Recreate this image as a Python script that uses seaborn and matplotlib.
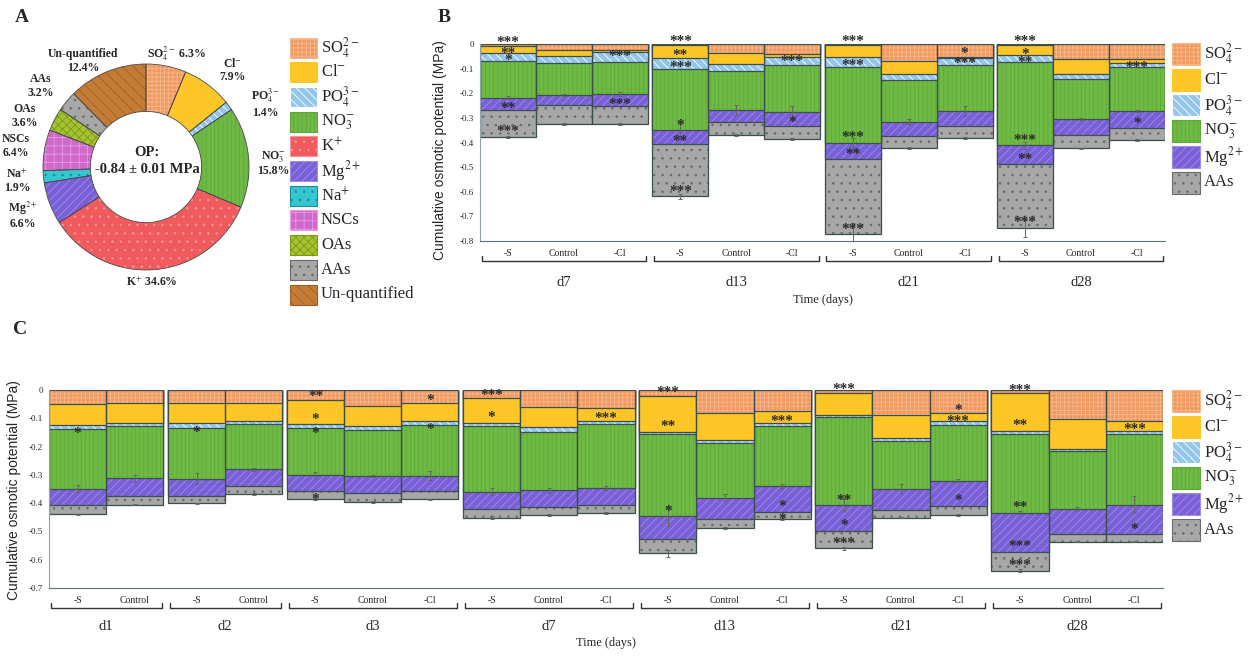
import numpy as np
import matplotlib.pyplot as plt
from matplotlib.patches import Rectangle
from matplotlib.ticker import FuncFormatter, MultipleLocator
import seaborn as sns

# =============================================
# 1. Data
# =============================================
# A: share of leaf osmotic potential (%), clockwise from 12 o'clock
pie_keys = ["SO4", "Cl", "PO4", "NO3", "K", "Mg", "Na", "NSCs", "OAs", "AAs", "Unq"]
pie_share = [6.3, 7.9, 1.4, 15.8, 34.6, 6.6, 1.9, 6.4, 3.6, 3.2, 12.4]
pie_total = "OP:\n-0.84 ± 0.01 MPa"

# B / C: solute contributions (MPa, magnitude), stacked from 0 downwards
seg_keys = ["SO4", "Cl", "PO4", "NO3", "Mg", "AAs"]

days_b = ["d7", "d13", "d21", "d28"]
treat_b = [["-S", "Control", "-Cl"]] * 4
so4_b = [.007, .024, .024, .004, .038, .042, .004, .068, .052, .004, .062, .062]
cl_b = [.028, .025, .007, .052, .043, .010, .048, .054, .006, .041, .060, .014]
po4_b = [.034, .029, .041, .046, .029, .033, .040, .024, .027, .029, .020, .019]
no3_b = [.149, .129, .131, .248, .158, .190, .308, .170, .187, .337, .163, .177]
mg_b = [.052, .041, .049, .058, .048, .057, .069, .058, .060, .078, .065, .071]
aas_b = [.107, .077, .073, .210, .054, .055, .303, .050, .049, .258, .054, .047]
err_no3_b = [.005, .004, .008, .025, .020, .022, .020, .010, .020, .015, .005, .005]
err_tot_b = [.004, .003, .003, .010, .004, .004, .045, .004, .003, .035, .003, .003]
sig_b = [
    ["***", "**", "*", "", "**", "***"], ["", "", "", "", "", ""], ["", "***", "", "", "***", ""],
    ["***", "**", "***", "*", "**", "***"], ["", "", "", "", "", ""], ["", "***", "", "", "*", ""],
    ["***", "", "***", "***", "**", "***"], ["", "", "", "", "", ""], ["*", "***", "", "", "", ""],
    ["***", "*", "**", "***", "**", "***"], ["", "", "", "", "", ""], ["", "***", "", "", "*", ""],
]

days_c = ["d1", "d2", "d3", "d7", "d13", "d21", "d28"]
treat_c = [["-S", "Control"], ["-S", "Control"]] + [["-S", "Control", "-Cl"]] * 5
so4_c = [.049, .047, .045, .045, .035, .056, .047, .029, .059, .062,
         .021, .082, .076, .009, .090, .082, .012, .103, .108]
cl_c = [.074, .068, .070, .064, .086, .073, .062, .086, .072, .046,
        .126, .096, .039, .079, .080, .029, .132, .106, .036]
po4_c = [.014, .011, .018, .012, .014, .014, .014, .014, .016, .013,
         .009, .010, .012, .006, .009, .012, .011, .008, .011]
no3_c = [.212, .186, .181, .160, .166, .162, .180, .231, .208, .225,
         .290, .193, .213, .313, .170, .197, .279, .203, .250]
mg_c = [.059, .061, .059, .057, .057, .058, .055, .062, .058, .061,
        .082, .076, .090, .091, .077, .090, .137, .090, .105]
aas_c = [.032, .032, .028, .029, .027, .032, .029, .029, .029, .027,
         .049, .032, .025, .062, .025, .032, .068, .026, .026]
err_no3_c = [.012, .012, .020, .004, .010, .004, .015, .012, .010, .008,
             .035, .012, .008, .020, .015, .006, .006, .008, .030]
err_tot_c = [.003, .003, .003, .003, .003, .004, .003, .004, .003, .003,
             .012, .003, .003, .005, .003, .003, .005, .003, .003]
sig_c = [
    ["", "", "*", "", "", ""], ["", "", "", "", "", ""],
    ["", "", "*", "", "", ""], ["", "", "", "", "", ""],
    ["**", "*", "*", "", "", "*"], ["", "", "", "", "", ""], ["*", "", "*", "", "", ""],
    ["***", "*", "", "", "", ""], ["", "", "", "", "", ""], ["", "***", "", "", "", ""],
    ["***", "**", "", "*", "", ""], ["", "", "", "", "", ""], ["", "***", "", "", "*", "*"],
    ["***", "", "", "**", "*", "***"], ["", "", "", "", "", ""], ["*", "***", "", "", "*", ""],
    ["***", "**", "", "**", "***", "***"], ["", "", "", "", "", ""], ["", "***", "", "", "*", ""],
]

# =============================================
# 2. Styles
# =============================================
names = {"SO4": "SO$_4^{2-}$", "Cl": "Cl$^{-}$", "PO4": "PO$_4^{3-}$", "NO3": "NO$_3^{-}$",
         "K": "K$^{+}$", "Mg": "Mg$^{2+}$", "Na": "Na$^{+}$", "NSCs": "NSCs", "OAs": "OAs",
         "AAs": "AAs", "Unq": "Un-quantified"}
# face colour, hatch, hatch colour
style = {
    "SO4": ("#F2995F", "++++", "#F7B88C"),
    "Cl": ("#FFC627", "", "#FFC627"),
    "PO4": ("#93C6EC", "\\\\\\\\", "#FFFFFF"),
    "NO3": ("#6FBA45", "||||", "#5FA838"),
    "K": ("#F15B5E", "..", "#F89598"),
    "Mg": ("#7A60D6", "////", "#9F8BEC"),
    "Na": ("#35C6CF", "..", "#1B8F98"),
    "NSCs": ("#D068CB", "++", "#E79BE3"),
    "OAs": ("#A5C232", "xxxx", "#7E9A14"),
    "AAs": ("#A7A7A7", "..", "#6A6A6A"),
    "Unq": ("#C47B36", "\\\\\\", "#A15F22"),
}
EDGE = "#3d4f4c"
GAP = 0.08
W, H = 1249, 657

sns.set_style("white")
plt.rcParams["font.family"] = ["Liberation Serif", "DejaVu Serif"]
plt.rcParams["mathtext.fontset"] = "stix"
plt.rcParams["axes.unicode_minus"] = False
plt.rcParams["hatch.linewidth"] = 0.6

fig = plt.figure(figsize=(W / 100, H / 100), dpi=100)


def stacked(ax, days, treats, parts, sig, e_no3, e_tot, ylo, lab_y, day_y, ylab_x, ylab_y):
    pos, labs, spans = [], [], []
    n = 0
    for g, (day, tr) in enumerate(zip(days, treats)):
        first = n + g * GAP
        for t in tr:
            pos.append(n + g * GAP)
            labs.append(t)
            n += 1
        spans.append((first - 0.5, pos[-1] + 0.5, day))
    pos = np.array(pos)
    parts = np.array(parts)
    cum = -np.cumsum(parts, axis=0)

    # deepest cumulative bar first, shallower ones drawn over it
    for k in range(len(seg_keys) - 1, -1, -1):
        fc, hatch, hc = style[seg_keys[k]]
        sns.barplot(x=pos, y=cum[k], orient="x", native_scale=True, width=1, errorbar=None,
                    color=fc, saturation=1, hatch=hatch, edgecolor=hc, linewidth=0, ax=ax)
        sns.barplot(x=pos, y=cum[k], orient="x", native_scale=True, width=1, errorbar=None,
                    fill=False, color=EDGE, edgecolor=EDGE, linewidth=0.9, ax=ax)

    ax.errorbar(pos, cum[3], yerr=e_no3, fmt="none", ecolor="#666666", elinewidth=0.7,
                capsize=1.5, capthick=0.7, zorder=4)
    ax.errorbar(pos, cum[-1], yerr=e_tot, fmt="none", ecolor="#666666", elinewidth=0.7,
                capsize=1.5, capthick=0.7, zorder=4)

    # significance marks: just above the lower boundary of their segment
    px_per_unit = ax.get_position().height * H / (0 - ylo)
    for i, marks in enumerate(sig):
        for k, s in enumerate(marks):
            if not s:
                continue
            seg_px = parts[k, i] * px_per_unit
            if k == 0:
                lift = 7
            elif seg_px < 6:
                lift = -1
            else:
                lift = min(9, seg_px / 2)
            ax.annotate(s, (pos[i], cum[k, i]), xytext=(0, (lift - 4) * 0.72),
                        textcoords="offset points", ha="center", va="center", fontsize=11,
                        fontweight="bold", color="#2b2b2b", annotation_clip=False, zorder=5)

    ax.set_xlim(pos[0] - 0.5, pos[-1] + 0.5)
    ax.set_ylim(ylo, 0)
    ax.set_xticks(pos)
    ax.set_xticklabels(labs, fontsize=7)
    ax.yaxis.set_major_locator(MultipleLocator(0.1))
    ax.yaxis.set_major_formatter(FuncFormatter(lambda v, p: "0" if abs(v) < 1e-9 else f"{v:.1f}"))
    ax.tick_params(axis="y", labelsize=6.5, length=2.5, width=0.7, color="#8a9aa3", pad=2)
    ax.tick_params(axis="x", length=3, width=0.7, color="#5f6f78", pad=3)
    for side in ["top", "right"]:
        ax.spines[side].set_visible(False)
    ax.spines["left"].set_color("#8fa3ad")
    ax.spines["bottom"].set_color("#5f6f78")
    ax.set_xlabel("")
    ax.set_ylabel("Cumulative osmotic potential (MPa)", fontsize=10,
                  family=["Liberation Sans", "DejaVu Sans"])
    ax.yaxis.set_label_coords(ylab_x, ylab_y)

    trans = ax.get_xaxis_transform()
    for a, b, day in spans:
        ax.plot([a + 0.03, a + 0.03, b - 0.03, b - 0.03], [lab_y + 0.025, lab_y, lab_y, lab_y + 0.025],
                transform=trans, clip_on=False, color="#333333", lw=1)
        ax.text((a + b) / 2, day_y, day, transform=trans, ha="center", va="center", fontsize=10.5)
    ax.text(0.5, day_y - 0.085, "Time (days)", transform=ax.transAxes, ha="center", va="center",
            fontsize=9)


# =============================================
# 3. Panel A: donut
# =============================================
cx, cy, r = 146, 167, 103
ax_a = fig.add_axes([(cx - r) / W, 1 - (cy + r) / H, 2 * r / W, 2 * r / H])
fills = ax_a.pie(pie_share, colors=[style[k][0] for k in pie_keys], startangle=90,
                 counterclock=False, radius=1, wedgeprops=dict(width=0.46, linewidth=0))[0]
for w, k in zip(fills, pie_keys):
    w.set_hatch(style[k][1])
    w.set_edgecolor(style[k][2])
    w.set_linewidth(0)
ax_a.pie(pie_share, colors=["none"] * len(pie_keys), startangle=90, counterclock=False, radius=1,
         wedgeprops=dict(width=0.46, linewidth=0.6, edgecolor="#4a4a4a"))
ax_a.set_xlim(-1, 1)
ax_a.set_ylim(-1, 1)
ax_a.axis("off")

# =============================================
# 4. Panels B and C: stacked bars
# =============================================
ax_b = fig.add_axes([480 / W, 1 - 241 / H, 685 / W, 197 / H])
stacked(ax_b, days_b, treat_b, [so4_b, cl_b, po4_b, no3_b, mg_b, aas_b], sig_b,
        err_no3_b, err_tot_b, -0.8, -0.10, -0.213, -0.048, 0.46)

ax_c = fig.add_axes([49 / W, 1 - 588 / H, 1114 / W, 198 / H])
stacked(ax_c, days_c, treat_c, [so4_c, cl_c, po4_c, no3_c, mg_c, aas_c], sig_c,
        err_no3_c, err_tot_c, -0.7, -0.10, -0.195, -0.025, 0.495)

# =============================================
# 5. Overlay in pixel units: letters, donut labels, legends
# =============================================
ov = fig.add_axes([0, 0, 1, 1])
ov.set_xlim(0, W)
ov.set_ylim(H, 0)
ov.axis("off")

for letter, (x, y) in zip("ABC", [(22, 18), (444, 17), (20, 330)]):
    ov.text(x, y, letter, fontsize=14, fontweight="bold", ha="center", va="center")

ov.text(147, 161, pie_total, fontsize=10.5, fontweight="bold", ha="center", va="center",
        linespacing=1.35)

pie_lab_xy = {"Unq": (83, 61), "SO4": (176, 54), "Cl": (233, 70), "PO4": (265, 103),
              "NO3": (273, 163), "K": (152, 282), "Mg": (23, 215), "Na": (17, 181),
              "NSCs": (16, 146), "OAs": (25, 116), "AAs": (41, 86)}
for k, v in zip(pie_keys, pie_share):
    sep = " " if k in ("SO4", "K") else "\n"
    x, y = pie_lab_xy[k]
    ov.text(x, y, f"{names[k]}{sep}{v:.1f}%", fontsize=8.5, fontweight="bold", ha="center",
            va="center", multialignment="center", linespacing=1.15)


def legend_box(keys, x0, y0, step, w, h):
    for i, k in enumerate(keys):
        fc, hatch, hc = style[k]
        yc = y0 + i * step
        ov.add_patch(Rectangle((x0, yc - h / 2), w, h, facecolor=fc, hatch=hatch, edgecolor=hc, lw=0.8))
        ov.text(x0 + w + 4, yc, names[k], fontsize=12, ha="left", va="center")


legend_box(pie_keys, 290, 47.5, 24.7, 27, 20)
legend_box(seg_keys, 1172, 54, 25.7, 28, 22)
legend_box(seg_keys, 1172, 401, 25.7, 28, 22)

fig.savefig("out.png", dpi=100)
